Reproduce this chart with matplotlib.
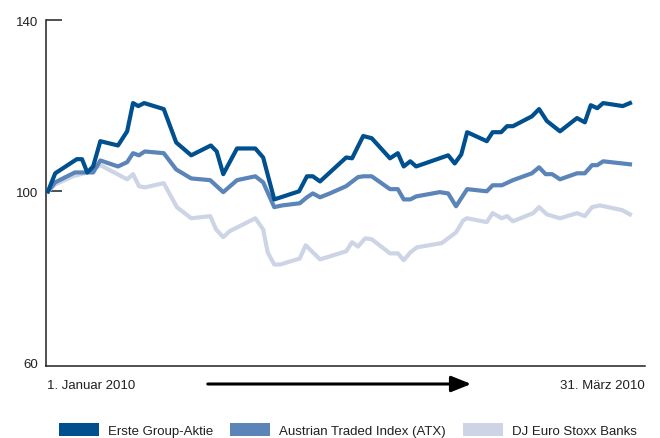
import numpy as np
import matplotlib
matplotlib.use("Agg")
import matplotlib.pyplot as plt
from matplotlib.patches import Rectangle, FancyArrowPatch

plt.rcParams['font.family'] = ['Liberation Sans', 'DejaVu Sans']

# Tage seit 1. Januar 2010, Indexwerte (Start = 100)
tage_erste = [0, 1.1, 4.4, 5.2, 6.0, 6.9, 8.0, 10.7, 12.1, 13.0, 13.8, 14.7, 17.7, 19.6,
              21.9, 24.9, 25.8, 26.8, 28.9, 31.7, 32.9, 34.6, 38.4, 39.6, 40.5, 41.6,
              43.1, 45.6, 46.5, 48.2, 49.5, 52.3, 53.5, 54.4, 55.4, 56.3, 61.2, 62.2,
              63.2, 64.1, 67.1, 68.0, 69.3, 70.2, 71.1, 74.0, 75.1, 76.3, 78.3, 80.9,
              82.1, 83.0, 84.0, 84.9, 87.9, 89.0]
erste = [100.0, 104.2, 107.5, 107.5, 104.4, 105.8, 111.7, 110.7, 114.0, 120.6, 119.9,
         120.6, 119.2, 111.4, 108.4, 110.7, 109.3, 104.0, 110.0, 110.0, 107.9, 98.1,
         100.0, 103.5, 103.5, 102.3, 104.4, 107.9, 107.7, 112.9, 112.4, 107.7, 108.9,
         105.8, 107.0, 105.8, 108.4, 106.5, 108.6, 113.8, 111.7, 113.8, 113.8, 115.2,
         115.2, 117.5, 119.2, 116.4, 114.0, 117.1, 116.1, 120.1, 119.4, 120.6, 119.9,
         120.6]

tage_atx = [0, 1.1, 4.1, 6.9, 8.0, 10.7, 12.1, 13.0, 13.9, 14.8, 17.7, 19.6, 21.9, 24.8,
            26.8, 28.9, 31.7, 32.9, 34.6, 35.8, 38.5, 39.6, 40.5, 41.6, 43.1, 45.6,
            47.4, 48.2, 49.5, 52.3, 53.5, 54.4, 55.4, 56.3, 59.9, 61.2, 62.4, 64.1,
            67.1, 68.0, 69.4, 71.1, 74.0, 75.1, 76.1, 77.1, 78.3, 80.9, 82.1, 83.2,
            84.0, 84.9, 89.0]
atx = [100.0, 102.1, 104.4, 104.4, 107.2, 105.8, 106.8, 108.9, 108.4, 109.3, 108.9,
       105.1, 103.0, 102.6, 99.8, 102.6, 103.5, 102.1, 96.3, 96.7, 97.2, 98.6, 99.5,
       98.6, 99.5, 101.2, 103.3, 103.5, 103.5, 100.5, 100.5, 98.1, 98.1, 98.8, 99.8,
       99.5, 96.5, 100.5, 100.0, 101.4, 101.4, 102.6, 104.2, 105.6, 104.0, 104.0,
       102.8, 104.2, 104.2, 106.1, 106.1, 107.0, 106.3]

tage_banks = [0, 1.1, 3.8, 6.0, 8.0, 12.1, 13.0, 13.9, 14.8, 17.7, 19.7, 21.9, 24.8,
              25.7, 26.8, 27.8, 31.7, 32.9, 33.6, 34.6, 35.5, 38.5, 39.4, 41.6, 43.1,
              45.6, 46.5, 47.4, 48.5, 49.5, 52.3, 53.5, 54.4, 55.4, 56.4, 60.2, 62.4,
              63.5, 64.1, 67.1, 68.0, 69.4, 70.2, 71.1, 74.2, 75.1, 76.3, 78.3, 80.9,
              82.1, 83.2, 84.4, 87.8, 89.0]
banks = [100.0, 101.6, 103.5, 104.4, 106.1, 102.8, 104.0, 101.2, 100.9, 101.9, 96.3,
         93.7, 94.2, 91.1, 89.3, 90.7, 93.7, 91.1, 85.7, 82.9, 82.9, 84.3, 87.4, 84.1,
         84.8, 86.0, 88.1, 87.1, 89.0, 88.8, 85.5, 85.5, 83.9, 85.7, 86.9, 87.9, 90.4,
         93.2, 93.7, 92.8, 94.9, 93.7, 94.2, 93.0, 94.9, 96.3, 94.6, 93.7, 94.9, 94.2,
         96.3, 96.7, 95.6, 94.6]

namen = ["Erste Group-Aktie", "Austrian Traded Index (ATX)", "DJ Euro Stoxx Banks"]
farben = ["#00508f", "#5b84b8", "#cdd4e6"]
yticks = [60, 100, 140]

fig = plt.figure(figsize=(6.6, 4.39), dpi=100)
ax = fig.add_axes([46/660, 1-367/439, 599/660, 346/439])

ax.plot(tage_banks, banks, color=farben[2], lw=3.0, zorder=2)
ax.plot(tage_atx, atx, color=farben[1], lw=3.0, zorder=3)
ax.plot(tage_erste, erste, color=farben[0], lw=3.0, zorder=4)

ax.set_xlim(-0.31, 91.3)
ax.set_ylim(59.2, 140)
ax.set_xticks([])
ax.set_yticks(yticks)
ax.set_yticklabels([str(t) for t in yticks])
ax.tick_params(axis='y', direction='in', length=11.5, width=1.1, color='#231f20',
               pad=5.5, labelsize=9.5, labelcolor='#231f20')
ax.yaxis.get_major_ticks()[0].tick1line.set_visible(False)
for s in ['top', 'right']:
    ax.spines[s].set_visible(False)
for s in ['left', 'bottom']:
    ax.spines[s].set_linewidth(1.1)
    ax.spines[s].set_color('#231f20')

# Zeitachse unten
fig.text(47/660, 1-386/439, "1. Januar 2010", ha='left', va='center', fontsize=9.5, color='#231f20')
fig.text(645/660, 1-386/439, "31. März 2010", ha='right', va='center', fontsize=9.5, color='#231f20')
pfeil = FancyArrowPatch((205/660, 1-385/439), (474/660, 1-385/439), transform=fig.transFigure,
                        arrowstyle='-|>,head_length=0.6,head_width=0.24', mutation_scale=20,
                        lw=2.2, color='black')
fig.patches.append(pfeil)

# Legende (etwas hoeher, damit der Text ganz sichtbar bleibt)
leg_x = [59, 230, 463]
for i in range(3):
    fig.patches.append(Rectangle((leg_x[i]/660, 1-437/439), 40/660, 13/439,
                                 transform=fig.transFigure, color=farben[i], lw=0))
    fig.text((leg_x[i]+49)/660, 1-435/439, namen[i], ha='left', va='baseline',
             fontsize=9.5, color='#231f20')

fig.savefig("out.png", dpi=100)
